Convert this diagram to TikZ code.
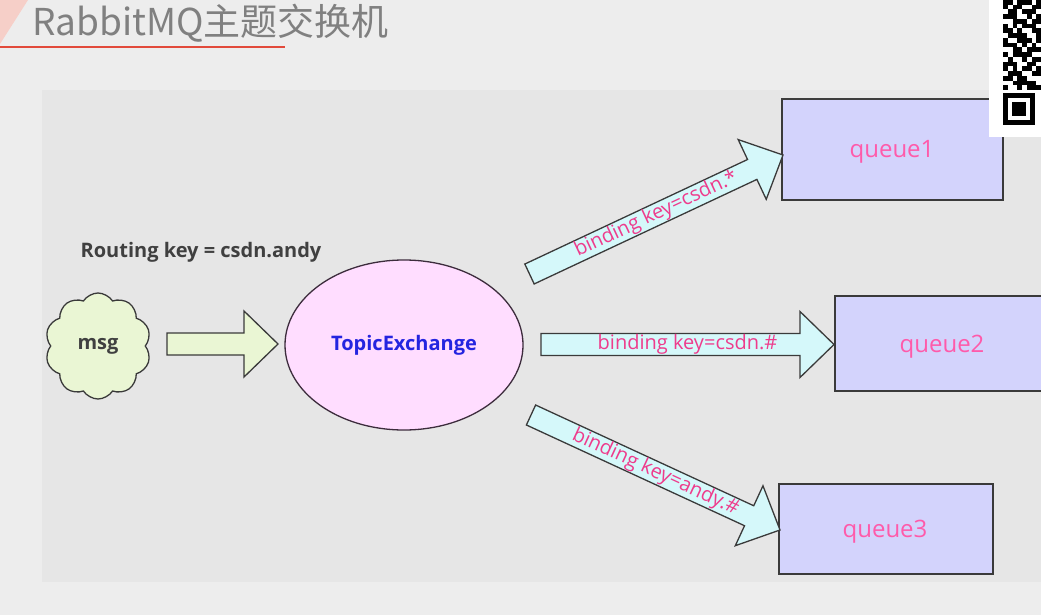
\documentclass[tikz,border=0pt]{standalone}
\usepackage{fontspec}
\setmainfont{Open Sans}
\newfontfamily\cjkfont{Noto Sans CJK SC}
\usetikzlibrary{shapes.geometric,shapes.symbols,calc}
\definecolor{outerbg}{HTML}{EDEDED}
\definecolor{panelbg}{HTML}{E6E6E6}
\definecolor{titlegray}{HTML}{808080}
\definecolor{titlered}{HTML}{E24A3B}
\definecolor{salmon}{HTML}{F6CFC8}
\definecolor{lineDark}{HTML}{3A3A3A}
\definecolor{queuefill}{HTML}{D3D3FC}
\definecolor{queuetext}{HTML}{FF5AAA}
\definecolor{keypink}{HTML}{EE3C8C}
\definecolor{cyanfill}{HTML}{D5F8FA}
\definecolor{greenfill}{HTML}{EAF6D4}
\definecolor{ellfill}{HTML}{FFDDFF}
\definecolor{ellline}{HTML}{3C2C3C}
\definecolor{exblue}{HTML}{2424E0}
\definecolor{labelgray}{HTML}{404040}
\tikzset{
  queuebox/.style={draw=lineDark, line width=1.3pt, fill=queuefill, rectangle},
  queuelabel/.style={text=queuetext, font=\fontsize{24}{28}\selectfont, inner sep=0pt},
  cyanarrow/.style={draw=lineDark, line width=1.3pt, fill=cyanfill, line join=miter},
  greenarrow/.style={draw=lineDark, line width=1.3pt, fill=greenfill, line join=miter},
  keylabel/.style={text=keypink, font=\fontsize{20}{23}\selectfont, inner sep=0pt},
  boldlabel/.style={font=\fontsize{20}{24}\selectfont\bfseries, inner sep=0pt},
}
\newcommand\blockarrow[5]{%
  \pgfpointdiff{\pgfpointanchor{#1}{center}}{\pgfpointanchor{#2}{center}}%
  \pgfgetlastxy\bkdx\bkdy
  \pgfmathsetmacro\bklen{veclen(\bkdx,\bkdy)}%
  \pgfmathsetmacro\bkang{atan2(\bkdy,\bkdx)}%
  \pgfmathsetmacro\bkneck{\bklen-34}%
  \pgfmathsetmacro\bkmid{\bklen/2}%
  \begin{scope}[shift={(#1)}, rotate=\bkang]
    \draw[#3] (0pt,-11pt) -- (\bkneck pt,-11pt) -- (\bkneck pt,-33pt) -- (\bklen pt,0pt)
      -- (\bkneck pt,33pt) -- (\bkneck pt,11pt) -- (0pt,11pt) -- cycle;
    \node[keylabel, transform shape] (#5) at (\bkmid pt,0pt) {#4};
  \end{scope}}
\begin{document}
\begin{tikzpicture}[x=1pt,y=-1pt]
\useasboundingbox (0,0) rectangle (1041,615);
\clip (0,0) rectangle (1041,615);
\fill[outerbg] (0,0) rectangle (1041,615);
\fill[panelbg] (42,90) rectangle (1041,582);
% title
\fill[salmon] (0,0) -- (28,0) -- (0,44) -- cycle;
\draw[titlered, line width=2pt] (0,47) -- (285,47);
\node[anchor=base west, inner sep=0pt, text=titlegray, font=\cjkfont\fontsize{37}{41}\selectfont] (title) at (32,36) {RabbitMQ主题交换机};
% labels
\node[boldlabel, text=labelgray] (rkey) at (201,252) {Routing key = csdn.andy};
% msg cloud
\node[cloud, cloud puffs=10, cloud puff arc=115, aspect=1, draw=lineDark, line width=1.3pt,
  fill=greenfill, minimum width=106pt, minimum height=106pt, text=labelgray,
  font=\fontsize{20}{24}\selectfont\bfseries] (msg) at (98,346) {msg};
% exchange
\node[ellipse, draw=ellline, line width=1.3pt, fill=ellfill, minimum width=238pt, minimum height=170pt,
  text=exblue, font=\fontsize{20}{24}\selectfont\bfseries] (ex) at (404,345) {TopicExchange};
% queues
\node[queuebox, minimum width=221pt, minimum height=101pt] (q1box) at (892.5,149.5) {};
\node[queuelabel] (q1) at (892,152) {queue1};
\node[queuebox, minimum width=215pt, minimum height=95pt] (q2box) at (942.5,343.5) {};
\node[queuelabel] (q2) at (942,347) {queue2};
\node[queuebox, minimum width=214pt, minimum height=90pt] (q3box) at (886,529) {};
\node[queuelabel] (q3) at (885,532) {queue3};
% arrow end points
\coordinate (g0) at (167,344);
\coordinate (g1) at (278,344);
\coordinate (a1s) at (529.5,274);
\coordinate (a1e) at (783,155);
\coordinate (a2s) at (541,344.5);
\coordinate (a2e) at (834,344.5);
\coordinate (a3s) at (531,415);
\coordinate (a3e) at (780,530);
\blockarrow{g0}{g1}{greenarrow}{}{gl}
\blockarrow{a1s}{a1e}{cyanarrow}{binding key=csdn.*}{k1}
\blockarrow{a2s}{a2e}{cyanarrow}{binding key=csdn.\#}{k2}
\blockarrow{a3s}{a3e}{cyanarrow}{binding key=andy.\#}{k3}
% QR code corner
\fill[white] (989,0) rectangle (1041,137);
\foreach \r/\cols in {0/{0,1,3,4,5,7},1/{0,2,3,6,7},2/{1,2,4,5,6},3/{0,1,2,5,7},4/{2,3,4,6,7},5/{0,2,4,5,6},6/{0,1,3,6,7},7/{1,2,3,4,7},8/{0,3,4,5,7},9/{0,1,2,4,6},10/{2,3,5,6,7},11/{0,2,3,4,5},12/{1,4,6,7},13/{0,1,2,5,6},14/{0,2,4,5,7},15/{1,2,3,6,7},16/{0,1,3,4},17/{2,3,4,5,6},18/{0,3,5,6,7}}
  {\foreach \c in \cols {\fill[black] ({1003+\c*4.75},{\r*4.75}) rectangle ++(4.75,4.75);}}
\fill[black] (1003,93) rectangle (1035,125);
\fill[white] (1008,98) rectangle (1030,120);
\fill[black] (1012,102) rectangle (1026,116);
\end{tikzpicture}
\end{document}
